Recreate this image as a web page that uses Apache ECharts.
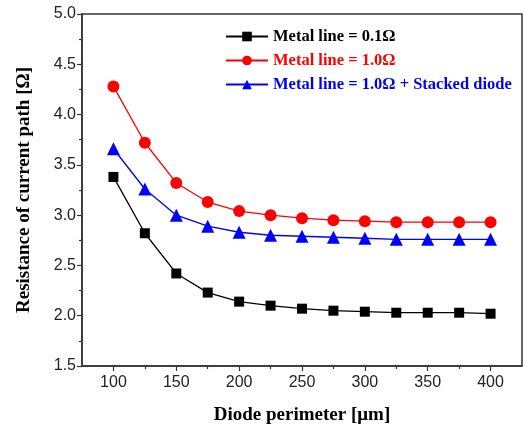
<!DOCTYPE html>
<html>
<head>
<meta charset="utf-8">
<script src="https://cdn.jsdelivr.net/npm/echarts@6/dist/echarts.min.js"></script>
<style>
  html, body { margin: 0; padding: 0; background: #fff; }
  #chart { width: 525px; height: 430px; }
</style>
</head>
<body>
<div id="chart"></div>
<script>
var perimeter = [100, 125, 150, 175, 200, 225, 250, 275, 300, 325, 350, 375, 400];
var metal01 = [3.38, 2.82, 2.42, 2.23, 2.14, 2.10, 2.07, 2.05, 2.04, 2.03, 2.03, 2.03, 2.02];
var metal10 = [4.28, 3.72, 3.32, 3.13, 3.04, 3.00, 2.97, 2.95, 2.94, 2.93, 2.93, 2.93, 2.93];
var metal10Stacked = [3.66, 3.26, 3.00, 2.89, 2.83, 2.80, 2.79, 2.78, 2.77, 2.76, 2.76, 2.76, 2.76];
var xMajorTicks = [100, 150, 200, 250, 300, 350, 400];
var xMinorTicks = [125, 175, 225, 275, 325, 375];
var seriesNames = ['Metal line = 0.1Ω', 'Metal line = 1.0Ω', 'Metal line = 1.0Ω + Stacked diode'];

var chart = echarts.init(document.getElementById('chart'));

function pairs(ys) {
    return perimeter.map(function (x, i) { return [x, ys[i]]; });
}

var serif = "'Liberation Serif', 'Times New Roman', serif";
var sans = "'Liberation Sans', Arial, sans-serif";
var axisColor = '#333';

var option = {
    animation: false,
    grid: {
        left: 82, right: 3, top: 14, bottom: 63,
        show: true, borderColor: axisColor, borderWidth: 1.5
    },
    legend: {
        orient: 'vertical',
        left: 220, top: 23,
        itemWidth: 42, itemHeight: 12, itemGap: 7,
        textStyle: { fontFamily: serif, fontWeight: 'bold', fontSize: 16.5 },
        data: [
            { name: seriesNames[0], textStyle: { color: '#000' } },
            { name: seriesNames[1], textStyle: { color: '#ff0000' } },
            { name: seriesNames[2], textStyle: { color: '#0000ff' } }
        ]
    },
    xAxis: [
        {
            type: 'value', min: 75, max: 425,
            name: 'Diode perimeter [μm]',
            nameLocation: 'middle', nameGap: 40,
            nameTextStyle: { fontFamily: serif, fontWeight: 'bold', fontSize: 19, color: '#000' },
            splitLine: { show: false },
            axisLine: { lineStyle: { color: axisColor, width: 1.5 } },
            axisTick: { show: true, inside: false, length: 5, customValues: xMajorTicks,
                        lineStyle: { color: axisColor, width: 1.2 } },
            axisLabel: { customValues: xMajorTicks, margin: 9,
                         fontFamily: sans, fontSize: 16, color: '#222' }
        },
        {
            type: 'value', min: 75, max: 425, position: 'bottom',
            splitLine: { show: false },
            axisLine: { show: false },
            axisTick: { show: true, length: 3, customValues: xMinorTicks,
                        lineStyle: { color: axisColor, width: 1.2 } },
            axisLabel: { show: false }
        }
    ],
    yAxis: {
        type: 'value', min: 1.5, max: 5.0, interval: 0.5,
        name: 'Resistance of current path [Ω]',
        nameLocation: 'middle', nameGap: 48,
        nameTextStyle: { fontFamily: serif, fontWeight: 'bold', fontSize: 19, color: '#000' },
        splitLine: { show: false },
        axisLine: { lineStyle: { color: axisColor, width: 1.5 } },
        axisTick: { length: 5, lineStyle: { color: axisColor, width: 1.2 } },
        minorTick: { show: true, splitNumber: 2, length: 3, lineStyle: { color: axisColor, width: 1.2 } },
        axisLabel: {
            margin: 6, fontFamily: sans, fontSize: 16, color: '#222',
            formatter: function (v) { return v.toFixed(1); }
        }
    },
    series: [
        {
            name: seriesNames[0], type: 'line', data: pairs(metal01),
            symbol: 'rect', symbolSize: 10,
            itemStyle: { color: '#000' }, lineStyle: { color: '#000', width: 1.3 }
        },
        {
            name: seriesNames[1], type: 'line', data: pairs(metal10),
            symbol: 'circle', symbolSize: 12,
            itemStyle: { color: '#ff0000' }, lineStyle: { color: '#ff0000', width: 1.3 }
        },
        {
            name: seriesNames[2], type: 'line', data: pairs(metal10Stacked),
            symbol: 'triangle', symbolSize: 13,
            itemStyle: { color: '#0000ff' }, lineStyle: { color: '#0000ff', width: 1.3 }
        }
    ]
};

chart.setOption(option);
</script>
</body>
</html>
